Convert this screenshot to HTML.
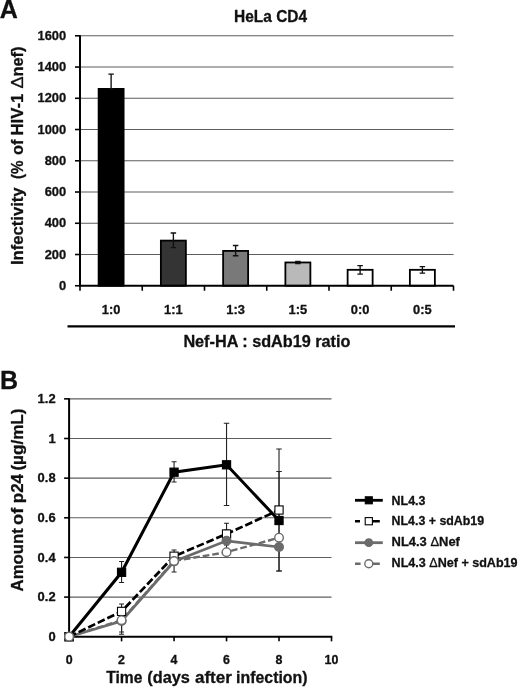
<!DOCTYPE html>
<html><head><meta charset="utf-8"><title>Figure</title>
<style>
html,body{margin:0;padding:0;background:#fff;}
body{width:520px;height:690px;overflow:hidden;font-family:"Liberation Sans",sans-serif;}
svg{display:block;will-change:transform;transform:translateZ(0);}
svg text{font-family:"Liberation Sans",sans-serif;font-weight:bold;stroke:#111;stroke-width:0.3px;stroke-linejoin:round;}
</style></head><body>
<svg width="520" height="690" viewBox="0 0 520 690">
<rect width="520" height="690" fill="#fff"/>
<text x="-0.2" y="17.7" font-size="25" text-anchor="start" fill="#111" >A</text>
<text x="270.6" y="22.2" font-size="16" text-anchor="middle" fill="#111" textLength="73" lengthAdjust="spacingAndGlyphs" >HeLa CD4</text>
<line x1="80" x2="453.5" y1="254.51" y2="254.51" stroke="#5e5e5e" stroke-width="1.1"/>
<line x1="80" x2="453.5" y1="223.26" y2="223.26" stroke="#5e5e5e" stroke-width="1.1"/>
<line x1="80" x2="453.5" y1="192.02" y2="192.02" stroke="#5e5e5e" stroke-width="1.1"/>
<line x1="80" x2="453.5" y1="160.78" y2="160.78" stroke="#5e5e5e" stroke-width="1.1"/>
<line x1="80" x2="453.5" y1="129.53" y2="129.53" stroke="#5e5e5e" stroke-width="1.1"/>
<line x1="80" x2="453.5" y1="98.29" y2="98.29" stroke="#5e5e5e" stroke-width="1.1"/>
<line x1="80" x2="453.5" y1="67.04" y2="67.04" stroke="#5e5e5e" stroke-width="1.1"/>
<line x1="80" x2="453.5" y1="35.80" y2="35.80" stroke="#5e5e5e" stroke-width="1.1"/>
<text x="66.2" y="289.9" font-size="12.5" text-anchor="end" fill="#111" textLength="7.2" lengthAdjust="spacingAndGlyphs" >0</text>
<text x="66.2" y="258.66" font-size="12.5" text-anchor="end" fill="#111" textLength="21.5" lengthAdjust="spacingAndGlyphs" >200</text>
<text x="66.2" y="227.41" font-size="12.5" text-anchor="end" fill="#111" textLength="21.5" lengthAdjust="spacingAndGlyphs" >400</text>
<text x="66.2" y="196.17" font-size="12.5" text-anchor="end" fill="#111" textLength="21.5" lengthAdjust="spacingAndGlyphs" >600</text>
<text x="66.2" y="164.93" font-size="12.5" text-anchor="end" fill="#111" textLength="21.5" lengthAdjust="spacingAndGlyphs" >800</text>
<text x="66.2" y="133.68" font-size="12.5" text-anchor="end" fill="#111" textLength="28.7" lengthAdjust="spacingAndGlyphs" >1000</text>
<text x="66.2" y="102.44" font-size="12.5" text-anchor="end" fill="#111" textLength="28.7" lengthAdjust="spacingAndGlyphs" >1200</text>
<text x="66.2" y="71.19" font-size="12.5" text-anchor="end" fill="#111" textLength="28.7" lengthAdjust="spacingAndGlyphs" >1400</text>
<text x="66.2" y="39.95" font-size="12.5" text-anchor="end" fill="#111" textLength="28.7" lengthAdjust="spacingAndGlyphs" >1600</text>
<rect x="98.62" y="88.91" width="25" height="196.84" fill="#000" stroke="#000" stroke-width="1.8"/>
<path d="M111.12 74.07V88.91M108.37 74.07H113.87M108.37 88.91H113.87" stroke="#111" stroke-width="1.35" fill="none"/>
<rect x="160.88" y="240.60" width="25" height="45.15" fill="#343434" stroke="#000" stroke-width="1.8"/>
<path d="M173.38 232.95V247.63M170.63 232.95H176.13M170.63 247.63H176.13" stroke="#111" stroke-width="1.35" fill="none"/>
<rect x="223.12" y="250.91" width="25" height="34.84" fill="#797979" stroke="#000" stroke-width="1.8"/>
<path d="M235.62 245.45V255.76M232.87 245.45H238.37M232.87 255.76H238.37" stroke="#111" stroke-width="1.35" fill="none"/>
<rect x="285.38" y="262.47" width="25" height="23.28" fill="#b9b9b9" stroke="#000" stroke-width="1.8"/>
<path d="M297.88 261.38V263.57M295.13 261.38H300.63M295.13 263.57H300.63" stroke="#111" stroke-width="1.35" fill="none"/>
<rect x="347.62" y="269.82" width="25" height="15.93" fill="#fff" stroke="#000" stroke-width="1.8"/>
<path d="M360.12 265.6V274.19M357.37 265.6H362.87M357.37 274.19H362.87" stroke="#111" stroke-width="1.35" fill="none"/>
<rect x="409.88" y="269.82" width="25" height="15.93" fill="#fff" stroke="#000" stroke-width="1.8"/>
<path d="M422.38 266.69V273.1M419.63 266.69H425.13M419.63 273.1H425.13" stroke="#111" stroke-width="1.35" fill="none"/>
<line x1="80" x2="80" y1="35.3" y2="286.75" stroke="#000" stroke-width="2"/>
<line x1="79" x2="453.5" y1="285.75" y2="285.75" stroke="#000" stroke-width="2"/>
<line x1="75" x2="80" y1="285.75" y2="285.75" stroke="#000" stroke-width="1.6"/>
<line x1="75" x2="80" y1="254.51" y2="254.51" stroke="#000" stroke-width="1.6"/>
<line x1="75" x2="80" y1="223.26" y2="223.26" stroke="#000" stroke-width="1.6"/>
<line x1="75" x2="80" y1="192.02" y2="192.02" stroke="#000" stroke-width="1.6"/>
<line x1="75" x2="80" y1="160.78" y2="160.78" stroke="#000" stroke-width="1.6"/>
<line x1="75" x2="80" y1="129.53" y2="129.53" stroke="#000" stroke-width="1.6"/>
<line x1="75" x2="80" y1="98.29" y2="98.29" stroke="#000" stroke-width="1.6"/>
<line x1="75" x2="80" y1="67.04" y2="67.04" stroke="#000" stroke-width="1.6"/>
<line x1="75" x2="80" y1="35.80" y2="35.80" stroke="#000" stroke-width="1.6"/>
<line x1="80.00" x2="80.00" y1="285.75" y2="290.75" stroke="#000" stroke-width="1.6"/>
<line x1="142.25" x2="142.25" y1="285.75" y2="290.75" stroke="#000" stroke-width="1.6"/>
<line x1="204.50" x2="204.50" y1="285.75" y2="290.75" stroke="#000" stroke-width="1.6"/>
<line x1="266.75" x2="266.75" y1="285.75" y2="290.75" stroke="#000" stroke-width="1.6"/>
<line x1="329.00" x2="329.00" y1="285.75" y2="290.75" stroke="#000" stroke-width="1.6"/>
<line x1="391.25" x2="391.25" y1="285.75" y2="290.75" stroke="#000" stroke-width="1.6"/>
<line x1="453.50" x2="453.50" y1="285.75" y2="290.75" stroke="#000" stroke-width="1.6"/>
<text x="111.12" y="313.8" font-size="12.5" text-anchor="middle" fill="#111" textLength="18.6" lengthAdjust="spacingAndGlyphs" >1:0</text>
<text x="173.38" y="313.8" font-size="12.5" text-anchor="middle" fill="#111" textLength="18.6" lengthAdjust="spacingAndGlyphs" >1:1</text>
<text x="235.62" y="313.8" font-size="12.5" text-anchor="middle" fill="#111" textLength="18.6" lengthAdjust="spacingAndGlyphs" >1:3</text>
<text x="297.88" y="313.8" font-size="12.5" text-anchor="middle" fill="#111" textLength="18.6" lengthAdjust="spacingAndGlyphs" >1:5</text>
<text x="360.12" y="313.8" font-size="12.5" text-anchor="middle" fill="#111" textLength="18.6" lengthAdjust="spacingAndGlyphs" >0:0</text>
<text x="422.38" y="313.8" font-size="12.5" text-anchor="middle" fill="#111" textLength="18.6" lengthAdjust="spacingAndGlyphs" >0:5</text>
<line x1="67.5" x2="455" y1="326.4" y2="326.4" stroke="#000" stroke-width="2.2"/>
<text x="266.9" y="346.6" font-size="16" text-anchor="middle" fill="#111" textLength="167" lengthAdjust="spacingAndGlyphs" >Nef-HA : sdAb19 ratio</text>
<g transform="translate(23 0) rotate(-90)">
<text x="-265.0" y="0" font-size="16.5" text-anchor="start" fill="#111" textLength="77.6" lengthAdjust="spacingAndGlyphs" >Infectivity</text>
<text x="-179.0" y="0" font-size="16.5" text-anchor="start" fill="#111" textLength="18.6" lengthAdjust="spacingAndGlyphs" >(%</text>
<text x="-154.9" y="0" font-size="16.5" text-anchor="start" fill="#111" textLength="15.3" lengthAdjust="spacingAndGlyphs" >of</text>
<text x="-135.5" y="0" font-size="16.5" text-anchor="start" fill="#111" textLength="41.8" lengthAdjust="spacingAndGlyphs" >HIV-1</text>
<text x="-88.6" y="0" font-size="16.5" text-anchor="start" fill="#111" textLength="12.2" lengthAdjust="spacingAndGlyphs" style="font-weight:normal">&#916;</text>
<text x="-76.6" y="0" font-size="16.5" text-anchor="start" fill="#111" textLength="30.0" lengthAdjust="spacingAndGlyphs" >nef)</text>
</g>
<text x="-0.1" y="388.7" font-size="25" text-anchor="start" fill="#111" >B</text>
<line x1="69.1" x2="331.5" y1="597.10" y2="597.10" stroke="#5e5e5e" stroke-width="1.1"/>
<line x1="69.1" x2="331.5" y1="557.45" y2="557.45" stroke="#5e5e5e" stroke-width="1.1"/>
<line x1="69.1" x2="331.5" y1="517.80" y2="517.80" stroke="#5e5e5e" stroke-width="1.1"/>
<line x1="69.1" x2="331.5" y1="478.15" y2="478.15" stroke="#5e5e5e" stroke-width="1.1"/>
<line x1="69.1" x2="331.5" y1="438.50" y2="438.50" stroke="#5e5e5e" stroke-width="1.1"/>
<line x1="69.1" x2="331.5" y1="398.85" y2="398.85" stroke="#5e5e5e" stroke-width="1.1"/>
<text x="55.6" y="640.8" font-size="12.5" text-anchor="end" fill="#111" textLength="7.2" lengthAdjust="spacingAndGlyphs" >0</text>
<text x="55.6" y="601.15" font-size="12.5" text-anchor="end" fill="#111" textLength="18" lengthAdjust="spacingAndGlyphs" >0.2</text>
<text x="55.6" y="561.5" font-size="12.5" text-anchor="end" fill="#111" textLength="18" lengthAdjust="spacingAndGlyphs" >0.4</text>
<text x="55.6" y="521.85" font-size="12.5" text-anchor="end" fill="#111" textLength="18" lengthAdjust="spacingAndGlyphs" >0.6</text>
<text x="55.6" y="482.2" font-size="12.5" text-anchor="end" fill="#111" textLength="18" lengthAdjust="spacingAndGlyphs" >0.8</text>
<text x="55.6" y="442.55" font-size="12.5" text-anchor="end" fill="#111" textLength="7.2" lengthAdjust="spacingAndGlyphs" >1</text>
<text x="55.6" y="402.9" font-size="12.5" text-anchor="end" fill="#111" textLength="18" lengthAdjust="spacingAndGlyphs" >1.2</text>
<line x1="69.1" x2="69.1" y1="398.35" y2="637.75" stroke="#000" stroke-width="2"/>
<line x1="68.1" x2="332.3" y1="636.75" y2="636.75" stroke="#000" stroke-width="2"/>
<line x1="64.1" x2="69.1" y1="636.75" y2="636.75" stroke="#000" stroke-width="1.6"/>
<line x1="64.1" x2="69.1" y1="597.10" y2="597.10" stroke="#000" stroke-width="1.6"/>
<line x1="64.1" x2="69.1" y1="557.45" y2="557.45" stroke="#000" stroke-width="1.6"/>
<line x1="64.1" x2="69.1" y1="517.80" y2="517.80" stroke="#000" stroke-width="1.6"/>
<line x1="64.1" x2="69.1" y1="478.15" y2="478.15" stroke="#000" stroke-width="1.6"/>
<line x1="64.1" x2="69.1" y1="438.50" y2="438.50" stroke="#000" stroke-width="1.6"/>
<line x1="64.1" x2="69.1" y1="398.85" y2="398.85" stroke="#000" stroke-width="1.6"/>
<line x1="69.10" x2="69.10" y1="636.75" y2="641.35" stroke="#000" stroke-width="1.6"/>
<text x="69.1" y="664" font-size="12" text-anchor="middle" fill="#111" textLength="6.9" lengthAdjust="spacingAndGlyphs" >0</text>
<line x1="121.58" x2="121.58" y1="636.75" y2="641.35" stroke="#000" stroke-width="1.6"/>
<text x="121.58" y="664" font-size="12" text-anchor="middle" fill="#111" textLength="6.9" lengthAdjust="spacingAndGlyphs" >2</text>
<line x1="174.06" x2="174.06" y1="636.75" y2="641.35" stroke="#000" stroke-width="1.6"/>
<text x="174.06" y="664" font-size="12" text-anchor="middle" fill="#111" textLength="6.9" lengthAdjust="spacingAndGlyphs" >4</text>
<line x1="226.54" x2="226.54" y1="636.75" y2="641.35" stroke="#000" stroke-width="1.6"/>
<text x="226.54" y="664" font-size="12" text-anchor="middle" fill="#111" textLength="6.9" lengthAdjust="spacingAndGlyphs" >6</text>
<line x1="279.02" x2="279.02" y1="636.75" y2="641.35" stroke="#000" stroke-width="1.6"/>
<text x="279.02" y="664" font-size="12" text-anchor="middle" fill="#111" textLength="6.9" lengthAdjust="spacingAndGlyphs" >8</text>
<line x1="331.50" x2="331.50" y1="636.75" y2="641.35" stroke="#000" stroke-width="1.6"/>
<text x="331.5" y="664" font-size="12" text-anchor="middle" fill="#111" textLength="13.8" lengthAdjust="spacingAndGlyphs" >10</text>
<text x="106.2" y="682.6" font-size="16.5" text-anchor="start" fill="#111" textLength="36.2" lengthAdjust="spacingAndGlyphs" >Time</text>
<text x="147.3" y="682.6" font-size="16.5" text-anchor="start" fill="#111" textLength="42.6" lengthAdjust="spacingAndGlyphs" >(days</text>
<text x="194.9" y="682.6" font-size="16.5" text-anchor="start" fill="#111" textLength="37" lengthAdjust="spacingAndGlyphs" >after</text>
<text x="236.1" y="682.6" font-size="16.5" text-anchor="start" fill="#111" textLength="71.4" lengthAdjust="spacingAndGlyphs" >infection)</text>
<g transform="translate(23.3 0) rotate(-90)">
<text x="-591.4" y="0" font-size="16.5" text-anchor="start" fill="#111" textLength="63.2" lengthAdjust="spacingAndGlyphs" >Amount</text>
<text x="-525.0" y="0" font-size="16.5" text-anchor="start" fill="#111" textLength="17.2" lengthAdjust="spacingAndGlyphs" >of</text>
<text x="-503.20000000000005" y="0" font-size="16.5" text-anchor="start" fill="#111" textLength="29.1" lengthAdjust="spacingAndGlyphs" >p24</text>
<text x="-470.6" y="0" font-size="16.5" text-anchor="start" fill="#111" textLength="62.1" lengthAdjust="spacingAndGlyphs" >(&#181;g/mL)</text>
</g>
<path d="M121.57999999999998 561.5V582.5M119.07999999999998 561.5H124.07999999999998M119.07999999999998 582.5H124.07999999999998" stroke="#222" stroke-width="1.1" fill="none"/>
<path d="M121.57999999999998 604V618M119.07999999999998 604H124.07999999999998M119.07999999999998 618H124.07999999999998" stroke="#222" stroke-width="1.1" fill="none"/>
<path d="M121.57999999999998 609V634.2M119.07999999999998 609H124.07999999999998M119.07999999999998 634.2H124.07999999999998" stroke="#222" stroke-width="1.1" fill="none"/>
<path d="M121.57999999999998 612V632M119.07999999999998 612H124.07999999999998M119.07999999999998 632H124.07999999999998" stroke="#222" stroke-width="1.1" fill="none"/>
<path d="M174.06 461.7V482M171.56 461.7H176.56M171.56 482H176.56" stroke="#222" stroke-width="1.1" fill="none"/>
<path d="M174.06 550V572M171.56 550H176.56M171.56 572H176.56" stroke="#222" stroke-width="1.1" fill="none"/>
<path d="M226.54 423.2V505.5M223.79 423.2H229.29M223.79 505.5H229.29" stroke="#222" stroke-width="1.1" fill="none"/>
<path d="M226.54 523.2V545M224.04 523.2H229.04M224.04 545H229.04" stroke="#222" stroke-width="1.1" fill="none"/>
<path d="M226.54 530V552M224.04 530H229.04M224.04 552H229.04" stroke="#222" stroke-width="1.1" fill="none"/>
<path d="M279.02 449V571M276.27 449H281.77M276.27 571H281.77" stroke="#222" stroke-width="1.1" fill="none"/>
<path d="M279.02 471.5V571M276.27 471.5H281.77M276.27 571H281.77" stroke="#222" stroke-width="1.1" fill="none"/>
<polyline points="69.10,636.70 121.58,620.20 174.06,561.00 226.54,552.20 279.02,537.70" fill="none" stroke="#6b6b6b" stroke-width="2.4" stroke-dasharray="6.7 2.9"/>
<polyline points="69.10,636.70 121.58,621.00 174.06,561.50 226.54,540.80 279.02,547.00" fill="none" stroke="#6b6b6b" stroke-width="2.7"/>
<polyline points="69.10,636.70 121.58,611.40 174.06,556.20 226.54,534.00 279.02,510.00" fill="none" stroke="#000" stroke-width="2.7" stroke-dasharray="7.7 2.9"/>
<polyline points="69.10,636.70 121.58,572.30 174.06,472.20 226.54,464.80 279.02,520.50" fill="none" stroke="#000" stroke-width="3" stroke-linejoin="miter"/>
<rect x="65.00" y="632.60" width="8.2" height="8.2" fill="#000" stroke="#000" stroke-width="1.1"/>
<rect x="117.48" y="568.20" width="8.2" height="8.2" fill="#000" stroke="#000" stroke-width="1.1"/>
<rect x="169.96" y="468.10" width="8.2" height="8.2" fill="#000" stroke="#000" stroke-width="1.1"/>
<rect x="222.44" y="460.70" width="8.2" height="8.2" fill="#000" stroke="#000" stroke-width="1.1"/>
<rect x="274.92" y="516.40" width="8.2" height="8.2" fill="#000" stroke="#000" stroke-width="1.1"/>
<rect x="65.00" y="632.60" width="8.2" height="8.2" fill="#fff" stroke="#000" stroke-width="1.1"/>
<rect x="117.48" y="607.30" width="8.2" height="8.2" fill="#fff" stroke="#000" stroke-width="1.1"/>
<rect x="169.96" y="552.10" width="8.2" height="8.2" fill="#fff" stroke="#000" stroke-width="1.1"/>
<rect x="222.44" y="529.90" width="8.2" height="8.2" fill="#fff" stroke="#000" stroke-width="1.1"/>
<rect x="274.92" y="505.90" width="8.2" height="8.2" fill="#fff" stroke="#000" stroke-width="1.1"/>
<circle cx="69.10" cy="636.70" r="4.3" fill="#6b6b6b" stroke="#6b6b6b" stroke-width="1.4"/>
<circle cx="121.58" cy="621.00" r="4.3" fill="#6b6b6b" stroke="#6b6b6b" stroke-width="1.4"/>
<circle cx="174.06" cy="561.50" r="4.3" fill="#6b6b6b" stroke="#6b6b6b" stroke-width="1.4"/>
<circle cx="226.54" cy="540.80" r="4.3" fill="#6b6b6b" stroke="#6b6b6b" stroke-width="1.4"/>
<circle cx="279.02" cy="547.00" r="4.3" fill="#6b6b6b" stroke="#6b6b6b" stroke-width="1.4"/>
<circle cx="69.10" cy="636.70" r="4.3" fill="#fff" stroke="#6b6b6b" stroke-width="1.4"/>
<circle cx="121.58" cy="620.20" r="4.3" fill="#fff" stroke="#6b6b6b" stroke-width="1.4"/>
<circle cx="174.06" cy="561.00" r="4.3" fill="#fff" stroke="#6b6b6b" stroke-width="1.4"/>
<circle cx="226.54" cy="552.20" r="4.3" fill="#fff" stroke="#6b6b6b" stroke-width="1.4"/>
<circle cx="279.02" cy="537.70" r="4.3" fill="#fff" stroke="#6b6b6b" stroke-width="1.4"/>
<line x1="355" x2="382.8" y1="500.3" y2="500.3" stroke="#000" stroke-width="2.8"/>
<rect x="365.30" y="496.80" width="7" height="7" fill="#000" stroke="#000" stroke-width="1.1"/>
<path d="M355 521.2H360M372.5 521.2H379.8" stroke="#000" stroke-width="2.6"/>
<rect x="365.20" y="517.60" width="7.2" height="7.2" fill="#fff" stroke="#000" stroke-width="1.1"/>
<line x1="355" x2="382.8" y1="542.7" y2="542.7" stroke="#6b6b6b" stroke-width="2.8"/>
<circle cx="368.80" cy="542.70" r="3.7" fill="#6b6b6b" stroke="#6b6b6b" stroke-width="1.4"/>
<path d="M355 563.7H360.6M373 563.7H379.8" stroke="#6b6b6b" stroke-width="2.4"/>
<circle cx="368.80" cy="563.70" r="4.0" fill="#fff" stroke="#6b6b6b" stroke-width="1.4"/>
<text x="391.6" y="504.5" font-size="13" text-anchor="start" fill="#111" textLength="33.8" lengthAdjust="spacingAndGlyphs" >NL4.3</text>
<text x="391.6" y="525.3" font-size="13" text-anchor="start" fill="#111" textLength="92.5" lengthAdjust="spacingAndGlyphs" >NL4.3 + sdAb19</text>
<text x="391.6" y="546.2" font-size="13" text-anchor="start" fill="#111" textLength="68.3" lengthAdjust="spacingAndGlyphs" >NL4.3 <tspan style="font-weight:normal">&#916;</tspan>Nef</text>
<text x="391.6" y="566.9" font-size="13" text-anchor="start" fill="#111" textLength="126" lengthAdjust="spacingAndGlyphs" >NL4.3 <tspan style="font-weight:normal">&#916;</tspan>Nef + sdAb19</text>
</svg>
</body></html>
